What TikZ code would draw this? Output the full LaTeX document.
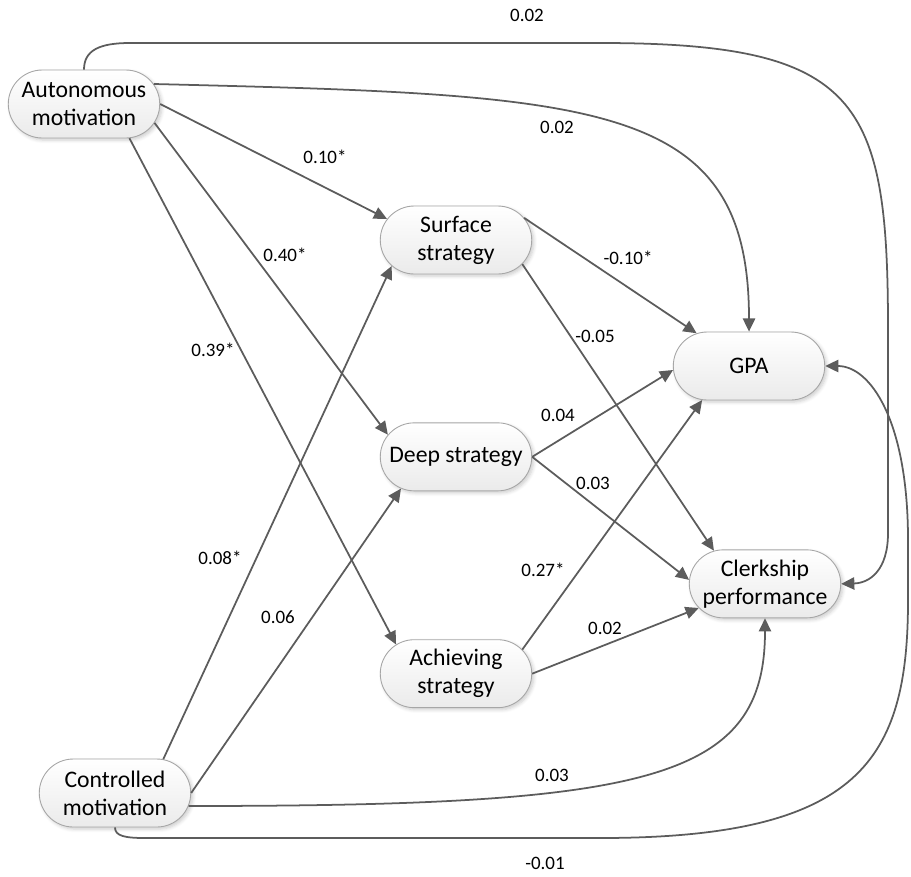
\documentclass[tikz,border=0pt]{standalone}
\usepackage{fontspec}
\setmainfont{Carlito}
\usepackage{tikz}
\usetikzlibrary{shapes.misc}
\usetikzlibrary{shadows.blur}
\usetikzlibrary{positioning}
\usetikzlibrary{arrows.meta}
\definecolor{linegray}{RGB}{92,92,92}
\definecolor{boxgray}{RGB}{166,166,166}
\tikzset{
factor_box/.style={rounded rectangle, draw=boxgray, line width=0.5pt, top color=white, bottom color=black!8, minimum width=3.1cm, minimum height=1.36cm, inner sep=1pt, align=center, font=\fontsize{13.5}{16}\selectfont, blur shadow={shadow xshift=1.2pt, shadow yshift=-1.2pt, shadow opacity=20, shadow blur steps=5}},
path_arrow/.style={draw=linegray, line width=1pt, -{Triangle[length=7.5pt,width=7pt]}},
coef_label/.style={font=\fontsize{10.8}{13}\selectfont, inner sep=0pt}
}

\begin{document}
\begin{tikzpicture}[x=0.02cm, y=-0.02cm]
    \useasboundingbox (0,0) rectangle (911,876);
    % motivations, strategies, outcomes
    \node[factor_box] (aut) at (84,104) {Autonomous\\motivation};
    \node[factor_box] (ctrl) at (115,793) {Controlled\\motivation};
    \node[factor_box] (surface) at (456,240) {Surface\\strategy};
    \node[factor_box] (deep) [below=2.96cm of surface] {Deep strategy};
    \node[factor_box] (achieving) [below=2.96cm of deep] {Achieving\\strategy};
    \node[factor_box] (gpa) at (749,366) {GPA};
    \node[factor_box] (clerk) [below=2.98cm of gpa, xshift=0.32cm] {Clerkship\\performance};

    \draw[path_arrow] (aut.east) -- (surface.163);
    \draw[path_arrow] (aut.-15) -- (deep.162);
    \draw[path_arrow] (aut.-37) -- (achieving.154);
    \draw[path_arrow] (ctrl.35) -- (surface.-158);
    \draw[path_arrow] (ctrl.east) -- (deep.-150);
    \draw[path_arrow] (surface.18) -- (gpa.148);
    \draw[path_arrow] (surface.-20) -- (clerk.147);
    \draw[path_arrow] (deep.east) -- (gpa.-177);
    \draw[path_arrow] (deep.east) -- (clerk.177);
    \draw[path_arrow] (achieving.20) -- (gpa.-144);
    \draw[path_arrow] (achieving.east) -- (clerk.-160);
    % direct paths round the outside
    \draw[path_arrow] (aut.16) .. controls (600,95) and (749,100) .. (gpa.north);
    \draw[path_arrow] (aut.north) .. controls (84,50) and (100,43) .. (130,43) -- (600,43)
        .. controls (860,43) and (888,100) .. (888,330) -- (888,533)
        .. controls (888,570) and (870,583) .. (clerk.east);
    \draw[path_arrow] (ctrl.-10) .. controls (650,806) and (765,780) .. (clerk.south);
    \draw[path_arrow] (ctrl.south) .. controls (115,836) and (125,838) .. (145,838) -- (600,838)
        .. controls (860,838) and (908,760) .. (908,600) -- (908,540)
        .. controls (908,420) and (870,366) .. (gpa.east);

    % coefficients
    \node[coef_label] (c_aut_clerk) at (527,15) {0.02};
    \node[coef_label] (c_aut_gpa) at (557,127) {0.02};
    \node[coef_label] (c_aut_surface) at (325,157) {0.10*};
    \node[coef_label] (c_aut_deep) at (285,255) {0.40*};
    \node[coef_label] (c_aut_achieving) at (213,350) {0.39*};
    \node[coef_label] (c_surface_gpa) at (628,258) {-0.10*};
    \node[coef_label] (c_surface_clerk) at (595,336) {-0.05};
    \node[coef_label] (c_deep_gpa) at (558,415) {0.04};
    \node[coef_label] (c_deep_clerk) at (593,483) {0.03};
    \node[coef_label] (c_ctrl_surface) at (220,558) {0.08*};
    \node[coef_label] (c_achieving_gpa) at (543,570) {0.27*};
    \node[coef_label] (c_ctrl_deep) at (278,617) {0.06};
    \node[coef_label] (c_achieving_clerk) at (605,628) {0.02};
    \node[coef_label] (c_ctrl_clerk) at (552,775) {0.03};
    \node[coef_label] (c_ctrl_gpa) at (545,863) {-0.01};
\end{tikzpicture}
\end{document}
